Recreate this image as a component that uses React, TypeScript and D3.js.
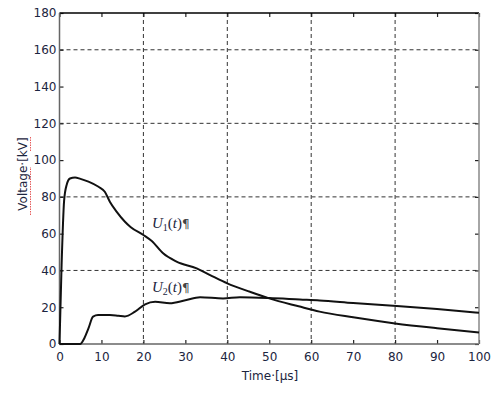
import { useEffect, useRef } from "react";
import * as d3 from "d3";

// U1(t)
const u1Time = [0, 0.5, 1.1, 1.7, 2.5, 3.7, 5, 6.9, 9.3, 10.8, 12, 13.6, 15.6, 17, 20, 22, 24.7, 27.9, 32.7, 35.9, 40, 45.4, 50, 57, 62, 70, 80, 90, 100];
const u1Volt = [0, 43, 78, 86.5, 90, 90.6, 89.8, 88.3, 85.5, 82.8, 77.4, 72, 66.5, 63.5, 59.3, 56, 49.3, 44.8, 41.1, 37.5, 33, 28.4, 24.8, 20.5, 17.6, 14.5, 11.2, 8.6, 6.3];

// U2(t)
const u2Time = [0, 4.9, 6, 6.9, 8, 9.2, 12, 14, 15.6, 18, 20.4, 22.8, 26.3, 30, 33.5, 39, 43, 50, 57.3, 62, 70, 80.4, 90, 100];
const u2Volt = [0, 0, 3.5, 8.5, 14.9, 15.8, 15.8, 15.4, 15, 17.6, 21.6, 23, 22.2, 23.8, 25.4, 24.8, 25.4, 25, 24.2, 23.7, 22.3, 20.7, 19, 17];

const xTicks = [0, 10, 20, 30, 40, 50, 60, 70, 80, 90, 100];
const yTicks = [0, 20, 40, 60, 80, 100, 120, 140, 160, 180];
const xGrid = [20, 40, 60, 80];
const yGrid = [40, 80, 120, 160];

const W = 503;
const H = 397;
const LEFT = 59.5;
const RIGHT = 479;
const TOP = 13;
const BOTTOM = 344;

const TEXT = "#1c2540";
const FONT = "DejaVu Sans, Verdana, sans-serif";

export default function App() {
  const ref = useRef<SVGSVGElement>(null);

  useEffect(() => {
    const svg = d3.select(ref.current);
    svg.selectAll("*").remove();

    const x = d3.scaleLinear().domain([0, 100]).range([LEFT, RIGHT]);
    const y = d3.scaleLinear().domain([0, 180]).range([BOTTOM, TOP]);

    // grid
    const grid = svg.append("g").attr("stroke", "#333").attr("stroke-width", 1).attr("stroke-dasharray", "4,3");
    xGrid.forEach((v) => {
      grid.append("line").attr("x1", x(v)).attr("x2", x(v)).attr("y1", TOP).attr("y2", BOTTOM);
    });
    yGrid.forEach((v) => {
      grid.append("line").attr("x1", LEFT).attr("x2", RIGHT).attr("y1", y(v)).attr("y2", y(v));
    });

    // axes
    const styleAxis = (g: any) => {
      g.select(".domain").remove();
      g.selectAll(".tick line").attr("stroke", "#222").attr("stroke-width", 1.2);
      g.selectAll("text").attr("fill", TEXT).attr("font-family", FONT).attr("font-size", 12);
    };
    svg.append("g").attr("transform", `translate(0,${BOTTOM})`)
      .call(d3.axisBottom(x).tickValues(xTicks).tickSize(-4).tickPadding(8).tickFormat(d3.format("d")))
      .call(styleAxis);
    svg.append("g").attr("transform", `translate(${LEFT},0)`)
      .call(d3.axisLeft(y).tickValues(yTicks).tickSize(-4).tickPadding(3).tickFormat(d3.format("d")))
      .call(styleAxis);
    svg.append("g").attr("transform", `translate(0,${TOP})`)
      .call(d3.axisTop(x).tickValues(xTicks).tickSize(-4).tickFormat(() => ""))
      .call(styleAxis);
    svg.append("g").attr("transform", `translate(${RIGHT},0)`)
      .call(d3.axisRight(y).tickValues(yTicks).tickSize(-4).tickFormat(() => ""))
      .call(styleAxis);

    // box
    svg.append("line").attr("x1", LEFT).attr("x2", RIGHT).attr("y1", TOP).attr("y2", TOP).attr("stroke", "#000").attr("stroke-width", 1.5);
    svg.append("line").attr("x1", LEFT).attr("x2", RIGHT).attr("y1", BOTTOM).attr("y2", BOTTOM).attr("stroke", "#666").attr("stroke-width", 1.5);
    svg.append("line").attr("x1", LEFT).attr("x2", LEFT).attr("y1", TOP).attr("y2", BOTTOM).attr("stroke", "#666").attr("stroke-width", 1.5);
    svg.append("line").attr("x1", RIGHT).attr("x2", RIGHT).attr("y1", TOP).attr("y2", BOTTOM).attr("stroke", "#888").attr("stroke-width", 1.5);

    // curves
    const line = d3.line<[number, number]>()
      .curve(d3.curveMonotoneX);
    const u1 = u1Time.map((t, i) => [x(t), y(u1Volt[i])] as [number, number]);
    const u2 = u2Time.map((t, i) => [x(t), y(u2Volt[i])] as [number, number]);
    [u1, u2].forEach((pts) => {
      svg.append("path")
        .attr("d", line(pts))
        .attr("fill", "none")
        .attr("stroke", "#111")
        .attr("stroke-width", 2);
    });

    // curve labels
    const curveLabel = (sub: string, yPos: number) => {
      const t = svg.append("text")
        .attr("x", 152)
        .attr("y", yPos)
        .attr("font-family", "Liberation Serif, Times New Roman, serif")
        .attr("font-size", 15)
        .attr("fill", TEXT);
      t.append("tspan").attr("font-style", "italic").text("U");
      t.append("tspan").attr("font-size", 10).attr("dy", 3).text(sub);
      t.append("tspan").attr("dy", -3).text("(");
      t.append("tspan").attr("font-style", "italic").text("t");
      t.append("tspan").text(")");
      t.append("tspan").attr("fill", "#444").attr("font-family", FONT).attr("font-size", 12).text("¶");
    };
    curveLabel("1", 228);
    curveLabel("2", 292);

    // axis titles
    svg.append("text")
      .attr("x", 270)
      .attr("y", 380)
      .attr("text-anchor", "middle")
      .attr("font-family", FONT)
      .attr("font-size", 12)
      .attr("fill", TEXT)
      .text("Time·[µs]");

    const yt = svg.append("g").attr("transform", "translate(27,174) rotate(-90)");
    yt.append("text")
      .attr("text-anchor", "middle")
      .attr("font-family", FONT)
      .attr("font-size", 12)
      .attr("fill", TEXT)
      .text("Voltage·[kV]");
    // spell-check squiggles
    yt.append("line").attr("x1", -41).attr("x2", 7).attr("y1", 3.5).attr("y2", 3.5)
      .attr("stroke", "#e03030").attr("stroke-width", 0.8).attr("stroke-dasharray", "1.5,1");
    yt.append("line").attr("x1", 23).attr("x2", 37).attr("y1", 3.5).attr("y2", 3.5)
      .attr("stroke", "#e03030").attr("stroke-width", 0.8).attr("stroke-dasharray", "1.5,1");
  }, []);

  return (
    <svg ref={ref} width={W} height={H} style={{ position: "absolute", left: 0, top: 0, background: "#fff" }} />
  );
}
